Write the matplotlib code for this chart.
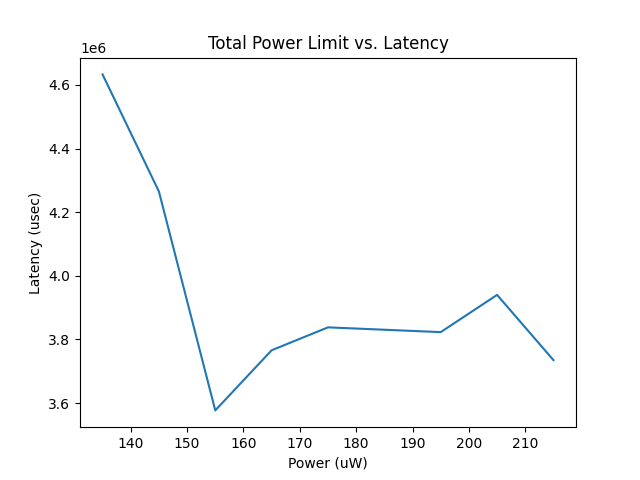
import matplotlib
matplotlib.use('Agg')
import matplotlib.pyplot as plt

power = [135, 145, 155, 165, 175, 195, 205, 215]
latency = [4.633e6, 4.265e6, 3.577e6, 3.766e6, 3.838e6, 3.823e6, 3.940e6, 3.735e6]

fig = plt.figure(figsize=(6.4, 4.8), dpi=100)
plt.plot(power, latency)
plt.title('Total Power Limit vs. Latency')
plt.xlabel('Power (uW)')
plt.ylabel('Latency (usec)')
plt.savefig('out.png')
